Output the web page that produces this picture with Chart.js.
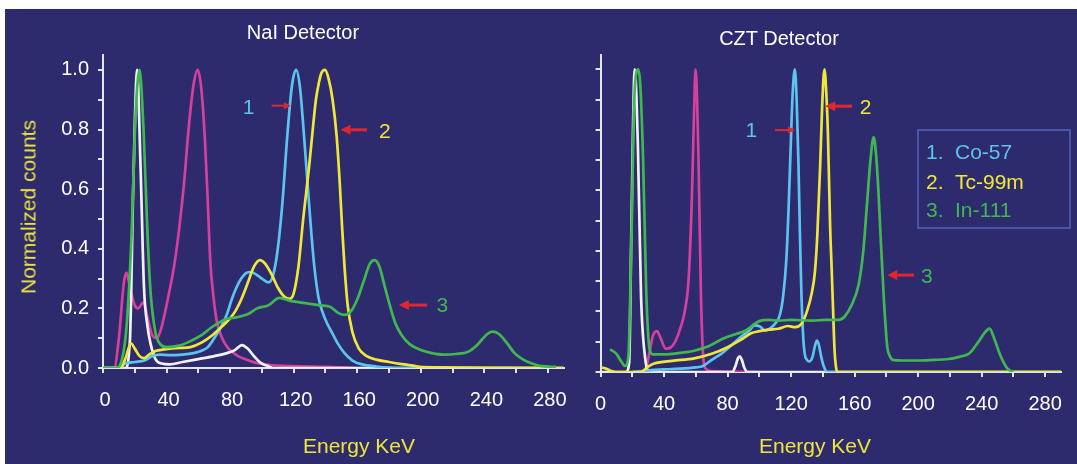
<!DOCTYPE html>
<html lang="en">
<head>
<meta charset="UTF-8">
<title>NaI vs CZT Detector spectra</title>
<script src="https://cdn.jsdelivr.net/npm/chart.js"></script>
<style>
    body {
        margin: 0;
        width: 1077px;
        height: 464px;
        background: #fff;
        overflow: hidden;
        font-family: Arial, "Liberation Sans", sans-serif;
        position: relative;
    }

    .panel {
        position: absolute;
        left: 5px;
        top: 9px;
        right: 0;
        bottom: 0;
        background: #2e2a6e;
    }

    .box {
        position: absolute;
        top: 0;
        height: 464px;
    }

    #naiBox { left: 0; width: 580px; }
    #cztBox { left: 580px; width: 497px; }

    .txt {
        position: absolute;
        transform: translate(-50%, -50%);
        line-height: 1;
        white-space: nowrap;
        font-size: 20px;
    }

    .title { color: #ffffff; }
    .axis { color: #ece63a; font-size: 21px; }

    .legend {
        position: absolute;
        left: 917px;
        top: 129px;
        width: 154px;
        height: 100px;
        border: 2px solid #4a55a8;
        box-sizing: border-box;
        font-size: 21px;
    }

    .legend .row {
        position: absolute;
        left: 7px;
        height: 21px;
        line-height: 21px;
        white-space: nowrap;
    }

    .legend .num {
        display: inline-block;
        width: 29px;
    }
</style>
</head>
<body>

<div class="panel"></div>

<div class="box" id="naiBox"><canvas id="naiChart"></canvas></div>
<div class="box" id="cztBox"><canvas id="cztChart"></canvas></div>

<div class="txt title" style="left:303px; top:32px;">NaI Detector</div>
<div class="txt title" style="left:779px; top:38px;">CZT Detector</div>
<div class="txt axis" style="left:359px; top:445px;">Energy KeV</div>
<div class="txt axis" style="left:815px; top:445px;">Energy KeV</div>
<div class="txt axis" style="left:28px; top:207px; transform: translate(-50%, -50%) rotate(-90deg);">Normalized counts</div>

<div class="legend">
    <div class="row" style="top:10px; color:#5cc4ee;"><span class="num">1.</span>Co-57</div>
    <div class="row" style="top:40px; color:#f0e838;"><span class="num">2.</span>Tc-99m</div>
    <div class="row" style="top:68px; color:#3fb94f;"><span class="num">3.</span>In-111</div>
</div>

<script>
    // ---- axes ----
    const xTicks = [0, 20, 40, 60, 80, 100, 120, 140, 160, 180, 200, 220, 240, 260, 280];
    const yTicks = [0, 0.1, 0.2, 0.3, 0.4, 0.5, 0.6, 0.7, 0.8, 0.9, 1.0];

    // ---- NaI detector ----
    const naiInKeV = [0, 8, 12, 15, 18, 20.5, 23, 25.5, 28, 30, 33, 36, 40, 48, 55, 62, 68, 74, 78, 84, 91, 97, 104, 111, 118, 124, 130, 137, 143, 148, 152, 156, 160, 164, 168, 171, 174, 177, 180, 184, 188, 193, 200, 207, 214, 222, 230, 236, 241, 245, 249, 254, 259, 264, 270, 276, 285];
    const naiIn = [0, 0, 0.03, 0.15, 0.45, 0.85, 1.0, 0.8, 0.45, 0.25, 0.12, 0.08, 0.07, 0.075, 0.09, 0.11, 0.135, 0.155, 0.165, 0.17, 0.18, 0.2, 0.21, 0.235, 0.225, 0.22, 0.215, 0.21, 0.205, 0.185, 0.178, 0.19, 0.23, 0.29, 0.35, 0.362, 0.34, 0.28, 0.22, 0.15, 0.11, 0.08, 0.06, 0.05, 0.045, 0.047, 0.055, 0.08, 0.11, 0.122, 0.115, 0.085, 0.05, 0.03, 0.015, 0.006, 0.004];

    const naiTcKeV = [0, 11, 14, 17.6, 20, 23, 25.8, 29, 33.5, 38, 42, 48, 55, 62, 68.8, 75, 82, 87, 91, 95, 98.8, 102, 106.5, 110, 114, 117.5, 120, 123, 126, 129.7, 132, 134, 136, 137.5, 139.7, 142, 144.5, 147, 149, 150.5, 152, 154, 157, 161, 166, 172, 180, 188, 195, 201, 290];
    const naiTc = [0, 0, 0.03, 0.083, 0.065, 0.04, 0.033, 0.045, 0.058, 0.062, 0.065, 0.067, 0.07, 0.085, 0.11, 0.14, 0.18, 0.23, 0.284, 0.34, 0.362, 0.35, 0.31, 0.27, 0.24, 0.232, 0.25, 0.34, 0.5, 0.675, 0.8, 0.9, 0.96, 0.99, 1.0, 0.97, 0.9, 0.78, 0.62, 0.47, 0.34, 0.21, 0.12, 0.065, 0.04, 0.028, 0.02, 0.013, 0.008, 0.003, 0];

    const naiCoKeV = [0, 10, 14, 20, 26, 31, 36, 42, 50, 57, 62, 66, 70, 74.5, 78, 81, 84, 87, 90, 93, 96, 100, 104, 107, 110, 113, 116, 119, 121.5, 124, 126.5, 129, 131, 133, 135.5, 138, 141, 144, 148, 152, 157, 163, 172, 185, 290];
    const naiCo = [0, 0, 0.015, 0.02, 0.025, 0.04, 0.045, 0.043, 0.045, 0.05, 0.058, 0.07, 0.1, 0.14, 0.18, 0.23, 0.27, 0.3, 0.318, 0.322, 0.315, 0.3, 0.287, 0.31, 0.4, 0.56, 0.78, 0.95, 1.0, 0.94, 0.78, 0.6, 0.46, 0.34, 0.24, 0.19, 0.15, 0.12, 0.08, 0.05, 0.025, 0.012, 0.005, 0, 0];

    const naiWhiteKeV = [0, 14, 17, 19, 21.5, 23.5, 25.8, 28, 30, 33, 37, 42, 50, 60, 70, 78, 83, 87.5, 91, 95, 99, 103, 107, 290];
    const naiWhite = [0, 0, 0.1, 0.6, 1.0, 0.7, 0.27, 0.14, 0.08, 0.03, 0.015, 0.012, 0.02, 0.03, 0.04, 0.05, 0.06, 0.077, 0.065, 0.04, 0.018, 0.008, 0, 0];

    const naiAmKeV = [0, 7, 10, 13, 14.7, 17, 20, 22, 25.5, 28, 31, 34, 37, 41.5, 45, 48, 51, 54, 57, 59.6, 62, 64.2, 66, 67.5, 69.5, 71.5, 75, 79, 85, 91, 98, 105, 120, 140, 160];
    const naiAm = [0, 0, 0.1, 0.28, 0.32, 0.27, 0.21, 0.2, 0.22, 0.17, 0.11, 0.1, 0.14, 0.25, 0.35, 0.47, 0.62, 0.81, 0.95, 1.0, 0.93, 0.76, 0.55, 0.36, 0.24, 0.16, 0.1, 0.065, 0.04, 0.027, 0.015, 0.01, 0.006, 0.004, 0];

    // ---- CZT detector ----
    const cztInKeV = [6, 10, 13, 15.4, 17.5, 19.6, 21.2, 23.7, 25, 26.8, 28.8, 30.9, 33, 40, 50, 59, 68, 77, 85, 91.5, 96, 100, 106, 112, 120, 133, 142, 150, 154, 158, 162.6, 165.5, 168, 170, 172, 173.5, 175, 176.3, 178.5, 180.6, 182, 184, 190, 200, 210, 218, 226, 232.4, 236, 238.6, 242, 245, 248, 251.4, 254, 256.5, 260];
    const cztIn = [0.075, 0.06, 0.035, 0.02, 0.05, 0.48, 0.9, 1.0, 0.95, 0.7, 0.26, 0.075, 0.058, 0.058, 0.063, 0.07, 0.085, 0.11, 0.125, 0.137, 0.155, 0.168, 0.172, 0.17, 0.172, 0.17, 0.172, 0.172, 0.185, 0.22, 0.29, 0.4, 0.567, 0.7, 0.776, 0.72, 0.6, 0.457, 0.236, 0.082, 0.055, 0.04, 0.038, 0.038, 0.04, 0.042, 0.05, 0.062, 0.085, 0.104, 0.13, 0.143, 0.11, 0.06, 0.03, 0.01, 0];

    const cztTcKeV = [0, 3, 6, 10, 20, 25.3, 30, 33.8, 45, 59, 70, 80, 88, 94.8, 100, 106, 112, 118, 122.5, 126.7, 130, 133, 135, 136.5, 138.3, 139.6, 141, 142.2, 143.2, 144.6, 145.5, 146.5, 147.4, 148.2, 149, 290];
    const cztTc = [0.015, 0.012, 0.005, 0, 0, 0, 0.018, 0.028, 0.037, 0.045, 0.06, 0.082, 0.105, 0.128, 0.135, 0.14, 0.143, 0.152, 0.148, 0.16, 0.2, 0.26, 0.33, 0.45, 0.677, 0.88, 1.0, 0.92, 0.79, 0.48, 0.35, 0.2, 0.07, 0.02, 0, 0];

    const cztCoKeV = [20, 30, 45, 60, 64.6, 70, 76, 81, 87, 93.6, 97, 100.5, 103.5, 107, 110, 113, 115, 117, 118.5, 119.8, 121, 122.4, 123.5, 124.6, 125.6, 126.5, 127.6, 128.6, 130, 131.6, 133.5, 135, 136.3, 137.5, 139, 140.5, 143, 290];
    const cztCo = [0, 0.005, 0.01, 0.015, 0.02, 0.04, 0.06, 0.082, 0.11, 0.137, 0.154, 0.15, 0.137, 0.145, 0.16, 0.19, 0.25, 0.37, 0.55, 0.75, 0.92, 1.0, 0.9, 0.7, 0.45, 0.26, 0.12, 0.06, 0.04, 0.035, 0.05, 0.085, 0.104, 0.09, 0.05, 0.02, 0, 0];

    const cztWhiteKeV = [0, 16, 18, 19.5, 21.5, 23.5, 25.5, 28, 31, 83, 85, 86.5, 87.6, 89, 90.5, 92.5, 290];
    const cztWhite = [0, 0, 0.03, 0.5, 1.0, 0.75, 0.25, 0.05, 0, 0, 0.02, 0.045, 0.052, 0.04, 0.015, 0, 0];

    const cztAmKeV = [27, 29, 31, 33, 35.5, 38, 41, 44, 47, 50.5, 53, 55.5, 57.6, 59, 59.8, 60.8, 61.7, 63.2, 64.8, 66.5, 70, 100];
    const cztAm = [0, 0.02, 0.07, 0.12, 0.135, 0.11, 0.077, 0.08, 0.1, 0.148, 0.2, 0.31, 0.59, 0.88, 1.0, 0.9, 0.7, 0.26, 0.04, 0.01, 0.003, 0];

    const colors = {
        co: '#5cc4ee',
        tc: '#f0e838',
        inn: '#3fb94f',
        am: '#d4409c',
        white: '#f2f2f6',
        arrow: '#e3262d',
        axis: '#e4e4ee'
    };

    function pts(xs, ys) {
        return xs.map((x, i) => ({ x: x, y: ys[i] }));
    }

    function line(label, xs, ys, color) {
        return {
            label: label,
            data: pts(xs, ys),
            borderColor: color,
            borderWidth: 2.7,
            pointRadius: 0,
            fill: false,
            cubicInterpolationMode: 'monotone'
        };
    }

    // red arrows with the numbered labels
    const calloutPlugin = {
        id: 'callouts',
        afterDatasetsDraw(chart, args, opts) {
            const ctx = chart.ctx;
            const xs = chart.scales.x, ys = chart.scales.y;
            ctx.save();
            opts.items.forEach(it => {
                const ay = ys.getPixelForValue(it.y);
                const x0 = xs.getPixelForValue(it.tail);
                const x1 = xs.getPixelForValue(it.head);
                const dir = Math.sign(x1 - x0);
                ctx.strokeStyle = colors.arrow;
                ctx.fillStyle = colors.arrow;
                ctx.lineWidth = it.w;
                ctx.beginPath();
                ctx.moveTo(x0, ay);
                ctx.lineTo(x1 - dir * it.hl, ay);
                ctx.stroke();
                ctx.beginPath();
                ctx.moveTo(x1, ay);
                ctx.lineTo(x1 - dir * it.hl, ay - it.hw / 2);
                ctx.lineTo(x1 - dir * it.hl, ay + it.hw / 2);
                ctx.closePath();
                ctx.fill();

                ctx.fillStyle = it.color;
                ctx.font = '21px Arial, "Liberation Sans", sans-serif';
                ctx.textAlign = 'center';
                ctx.textBaseline = 'middle';
                ctx.fillText(it.label, xs.getPixelForValue(it.tx), ys.getPixelForValue(it.ty) + 1);
            });
            ctx.restore();
        }
    };

    function makeOptions(yWidth, xHeight, padRight, yMax, showYLabels, xLabelShift, callouts) {
        return {
            responsive: true,
            maintainAspectRatio: false,
            animation: false,
            layout: { padding: { left: 0, right: padRight, top: 55, bottom: 0 } },
            plugins: {
                legend: { display: false },
                tooltip: { enabled: false },
                callouts: { items: callouts }
            },
            scales: {
                x: {
                    type: 'linear',
                    min: 0,
                    max: 290,
                    afterBuildTicks: s => { s.ticks = xTicks.map(v => ({ value: v })); },
                    afterFit: s => { s.height = xHeight; },
                    grid: { drawOnChartArea: false, drawTicks: true, tickLength: 5, color: colors.axis, lineWidth: 2 },
                    border: { display: true, color: colors.axis, width: 2 },
                    ticks: {
                        autoSkip: false,
                        maxRotation: 0,
                        padding: 15,
                        labelOffset: xLabelShift,
                        color: '#ffffff',
                        font: { size: 20, family: 'Arial, "Liberation Sans", sans-serif' },
                        callback: v => (v % 40 === 0 ? String(v) : '')
                    }
                },
                y: {
                    min: 0,
                    max: yMax,
                    afterBuildTicks: s => { s.ticks = yTicks.map(v => ({ value: v })); },
                    afterFit: s => { s.width = yWidth; },
                    grid: { drawOnChartArea: false, drawTicks: true, tickLength: 5, color: colors.axis, lineWidth: 2 },
                    border: { display: true, color: colors.axis, width: 2 },
                    ticks: {
                        autoSkip: false,
                        padding: 9,
                        color: '#ffffff',
                        font: { size: 20, family: 'Arial, "Liberation Sans", sans-serif' },
                        callback: v => {
                            if (!showYLabels) return '';
                            const k = Math.round(v * 10);
                            return k % 2 === 0 ? (k / 10).toFixed(1) : '';
                        }
                    }
                }
            }
        };
    }

    new Chart(document.getElementById('naiChart'), {
        type: 'line',
        data: {
            datasets: [
                line('In-111', naiInKeV, naiIn, colors.inn),
                line('Tc-99m', naiTcKeV, naiTc, colors.tc),
                line('Co-57', naiCoKeV, naiCo, colors.co),
                line('white', naiWhiteKeV, naiWhite, colors.white),
                line('magenta', naiAmKeV, naiAm, colors.am)
            ]
        },
        options: makeOptions(103, 96, 12, 1.05, true, 2, [
            { label: '1', color: colors.co, tx: 91.6, ty: 0.876, tail: 106.1, head: 118.3, y: 0.88, w: 2, hl: 7, hw: 7 },
            { label: '2', color: colors.tc, tx: 177.3, ty: 0.795, tail: 166.2, head: 149.5, y: 0.799, w: 3, hl: 10, hw: 10 },
            { label: '3', color: colors.inn, tx: 213.6, ty: 0.211, tail: 204, head: 186.2, y: 0.211, w: 3, hl: 10, hw: 10 }
        ]),
        plugins: [calloutPlugin]
    });

    new Chart(document.getElementById('cztChart'), {
        type: 'line',
        data: {
            datasets: [
                line('In-111', cztInKeV, cztIn, colors.inn),
                line('Tc-99m', cztTcKeV, cztTc, colors.tc),
                line('Co-57', cztCoKeV, cztCo, colors.co),
                line('white', cztWhiteKeV, cztWhite, colors.white),
                line('magenta', cztAmKeV, cztAm, colors.am)
            ]
        },
        options: makeOptions(18, 92, 9, 1.047, false, 0, [
            { label: '1', color: colors.co, tx: 95, ty: 0.797, tail: 109.8, head: 122.5, y: 0.799, w: 2, hl: 7, hw: 7 },
            { label: '2', color: colors.tc, tx: 166.9, ty: 0.876, tail: 158.4, head: 141.5, y: 0.878, w: 3, hl: 10, hw: 10 },
            { label: '3', color: colors.inn, tx: 205.5, ty: 0.315, tail: 197.5, head: 180.6, y: 0.32, w: 3, hl: 10, hw: 10 }
        ]),
        plugins: [calloutPlugin]
    });
</script>

</body>
</html>
